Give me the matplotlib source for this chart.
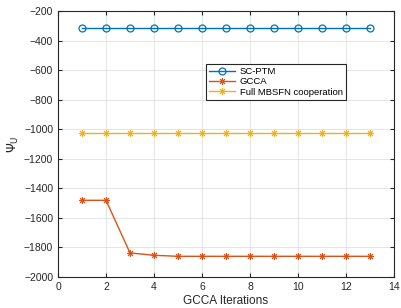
import matplotlib
matplotlib.use('Agg')
import matplotlib.pyplot as plt

plt.rcParams['font.family'] = ['Liberation Sans', 'DejaVu Sans']

iters = list(range(1, 14))
sc_ptm = [-318] * 13
gcca = [-1481, -1481, -1837, -1853, -1860, -1860, -1860, -1860, -1860, -1860, -1860, -1860, -1860]
mbsfn = [-1025] * 13

fig = plt.figure(figsize=(4.01, 3.08), dpi=100)
ax = fig.add_axes([58/401, 1 - 277/308, (394-58)/401, (277-11)/308])

star = (8, 2, 0)  # asterisk like matlab '*'
ax.plot(iters, sc_ptm, color='#0072BD', marker='o', mfc='none', ms=5, lw=1, mew=0.9, label='SC-PTM')
ax.plot(iters, gcca, color='#D95319', marker=star, ms=5, lw=1, mew=0.7, label='GCCA')
ax.plot(iters, mbsfn, color='#EDB120', marker=star, ms=5, lw=1, mew=0.7, label='Full MBSFN cooperation')

ax.set_xlim(0, 14)
ax.set_ylim(-2000, -200)
ax.set_xticks(range(0, 15, 2))
ax.set_yticks(range(-2000, -199, 200))
ax.grid(True, color='#e0e0e0', lw=0.6)
ax.set_axisbelow(True)
ax.tick_params(labelsize=7.5, direction='in', length=3, colors='#262626', top=True, right=True)
for s in ax.spines.values():
    s.set_color('#262626')
    s.set_linewidth(0.8)
ax.set_xlabel('GCCA Iterations', fontsize=8.5, color='#262626', labelpad=2)
ax.set_ylabel(r'$\Psi_{\mathrm{U}}$', fontsize=9, color='#262626', labelpad=2)

leg = ax.legend(loc='upper left', bbox_to_anchor=((206-58)/336, 1 - (64-11)/266), fontsize=6.8,
                fancybox=False, edgecolor='#262626', framealpha=1, borderpad=0.3,
                labelspacing=0.15, handlelength=2.8, handletextpad=0.5, borderaxespad=0)
leg.get_frame().set_linewidth(0.8)

fig.savefig('out.png', dpi=100)
